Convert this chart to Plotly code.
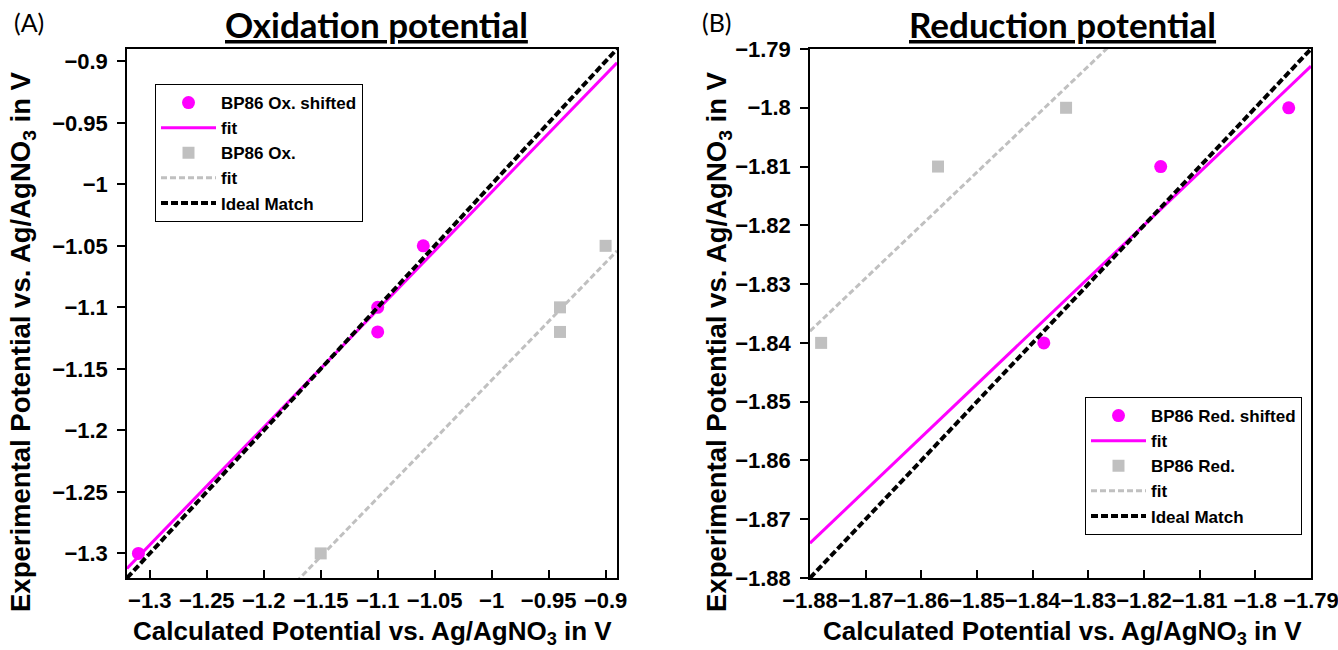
import numpy as np
import plotly.graph_objects as go

# ---------------- data ----------------
# Panel A: oxidation potentials (V vs Ag/AgNO3)
ox_calc_shifted = [-1.31, -1.10, -1.10, -1.06]
ox_calc = [-1.15, -0.94, -0.94, -0.90]
ox_exp = [-1.30, -1.10, -1.12, -1.05]

# Panel B: reduction potentials (V vs Ag/AgNO3)
red_calc_shifted = [-1.838, -1.817, -1.794]
red_calc = [-1.878, -1.857, -1.834]
red_exp = [-1.84, -1.81, -1.80]

ox_range = [-1.32, -0.89]
red_range = [-1.88, -1.79]

ox_tickvals = [-1.3, -1.25, -1.2, -1.15, -1.1, -1.05, -1.0, -0.95, -0.9]
ox_ticktext = ["\u22121.3", "\u22121.25", "\u22121.2", "\u22121.15", "\u22121.1",
               "\u22121.05", "\u22121", "\u22120.95", "\u22120.9"]
red_tickvals = [-1.88, -1.87, -1.86, -1.85, -1.84, -1.83, -1.82, -1.81, -1.80, -1.79]
red_ticktext = ["\u22121.88", "\u22121.87", "\u22121.86", "\u22121.85", "\u22121.84",
                "\u22121.83", "\u22121.82", "\u22121.81", "\u22121.8", "\u22121.79"]

MAGENTA = "#ff00ff"
GRAY = "#c0c0c0"
W, H = 1338, 650
SANS = "Liberation Sans, Arial, sans-serif"


def bold(labels):
    return ["<b>%s</b>" % t for t in labels]


def fit_line(x, y, rng):
    k, b = np.polyfit(x, y, 1)
    xs = np.array(rng, dtype=float)
    return xs, k * xs + b


fig = go.Figure()


def add_panel(xa, ya, leg, calc_s, calc, exp, rng, label_s, label):
    fx, fy = fit_line(calc_s, exp, rng)
    gx, gy = fit_line(calc, exp, rng)
    fig.add_trace(go.Scatter(x=calc_s, y=exp, mode="markers", name="<b>%s</b>" % label_s,
                             marker=dict(symbol="circle", size=13, color=MAGENTA),
                             xaxis=xa, yaxis=ya, legend=leg))
    fig.add_trace(go.Scatter(x=fx, y=fy, mode="lines", name="<b>fit</b>",
                             line=dict(color=MAGENTA, width=3),
                             xaxis=xa, yaxis=ya, legend=leg))
    fig.add_trace(go.Scatter(x=calc, y=exp, mode="markers", name="<b>%s</b>" % label,
                             marker=dict(symbol="square", size=12, color=GRAY),
                             xaxis=xa, yaxis=ya, legend=leg))
    fig.add_trace(go.Scatter(x=gx, y=gy, mode="lines", name="<b>fit</b>",
                             line=dict(color=GRAY, width=3, dash="6px,3px"),
                             xaxis=xa, yaxis=ya, legend=leg))
    fig.add_trace(go.Scatter(x=rng, y=rng, mode="lines", name="<b>Ideal Match</b>",
                             line=dict(color="black", width=4, dash="7px,3px"),
                             xaxis=xa, yaxis=ya, legend=leg))


add_panel("x", "y", "legend", ox_calc_shifted, ox_calc, ox_exp, ox_range,
          "BP86 Ox. shifted", "BP86 Ox.")
add_panel("x2", "y2", "legend2", red_calc_shifted, red_calc, red_exp, red_range,
          "BP86 Red. shifted", "BP86 Red.")

tickfont = dict(family=SANS, size=22, color="black", weight="bold")
axis_common = dict(showgrid=False, zeroline=False, showline=True, linecolor="black",
                   linewidth=1.5, mirror=True, ticklen=8, tickwidth=1.5,
                   tickcolor="black", tickfont=tickfont, automargin=False, tickangle=0,
                   ticklabeloverflow="allow")
xcommon = dict(ticks="inside", ticklabelstandoff=2, **axis_common)
ycommon = dict(ticks="outside", ticklabelstandoff=5, **axis_common)

ya_dom = [1 - 578 / H, 1 - 49 / H]
legfont = dict(family=SANS, size=17, color="black")
fig.update_layout(
    width=W, height=H,
    margin=dict(l=0, r=0, t=0, b=0),
    paper_bgcolor="white", plot_bgcolor="white",
    xaxis=dict(domain=[127 / W, 617 / W], range=ox_range, tickvals=ox_tickvals,
               ticktext=bold(ox_ticktext), anchor="y", **xcommon),
    yaxis=dict(domain=ya_dom, range=ox_range, tickvals=ox_tickvals,
               ticktext=bold(ox_ticktext), anchor="x", **ycommon),
    xaxis2=dict(domain=[810 / W, 1311 / W], range=red_range, tickvals=red_tickvals,
                ticktext=bold(red_ticktext), anchor="y2", **xcommon),
    yaxis2=dict(domain=ya_dom, range=red_range, tickvals=red_tickvals,
                ticktext=bold(red_ticktext), anchor="x2", **ycommon),
    legend=dict(x=155 / W, y=1 - 84 / H, xanchor="left", yanchor="top",
                bgcolor="white", bordercolor="black", borderwidth=1,
                font=legfont, itemwidth=55, tracegroupgap=0),
    legend2=dict(x=1302 / W, y=1 - 535 / H, xanchor="right", yanchor="bottom",
                 bgcolor="white", bordercolor="black", borderwidth=1,
                 font=legfont, itemwidth=55, tracegroupgap=0),
    showlegend=True,
)

title_font = dict(family="Lato, Open Sans", size=35, color="black", weight="bold",
                  lineposition="under")
label_font = dict(family="Lato, Open Sans", size=25, color="black")
xtitle_font = dict(family=SANS, size=26, color="black")
ytitle_font = dict(family=SANS, size=27.5, color="black")

xtitle = "<b>Calculated Potential vs. Ag/AgNO<sub>3</sub> in V</b>"
ytitle = "<b>Experimental Potential vs. Ag/AgNO<sub>3</sub> in V</b>"

annotations = [
    dict(text="Oxidation potential", x=376 / W, y=1 - 24 / H, font=title_font),
    dict(text="Reduction potential", x=1062 / W, y=1 - 24 / H, font=title_font),
    dict(text="(A)", x=29 / W, y=1 - 22 / H, font=label_font),
    dict(text="(B)", x=717 / W, y=1 - 22 / H, font=label_font),
    dict(text=xtitle, x=372 / W, y=1 - 632 / H, font=xtitle_font),
    dict(text=xtitle, x=1062 / W, y=1 - 632 / H, font=xtitle_font),
    dict(text=ytitle, x=22 / W, y=1 - 342 / H, font=ytitle_font, textangle=-90),
    dict(text=ytitle, x=718 / W, y=1 - 342 / H, font=ytitle_font, textangle=-90),
]
for a in annotations:
    a.update(xref="paper", yref="paper", showarrow=False, xanchor="center",
             yanchor="middle")
fig.update_layout(annotations=annotations)

fig.write_html("out.html")
